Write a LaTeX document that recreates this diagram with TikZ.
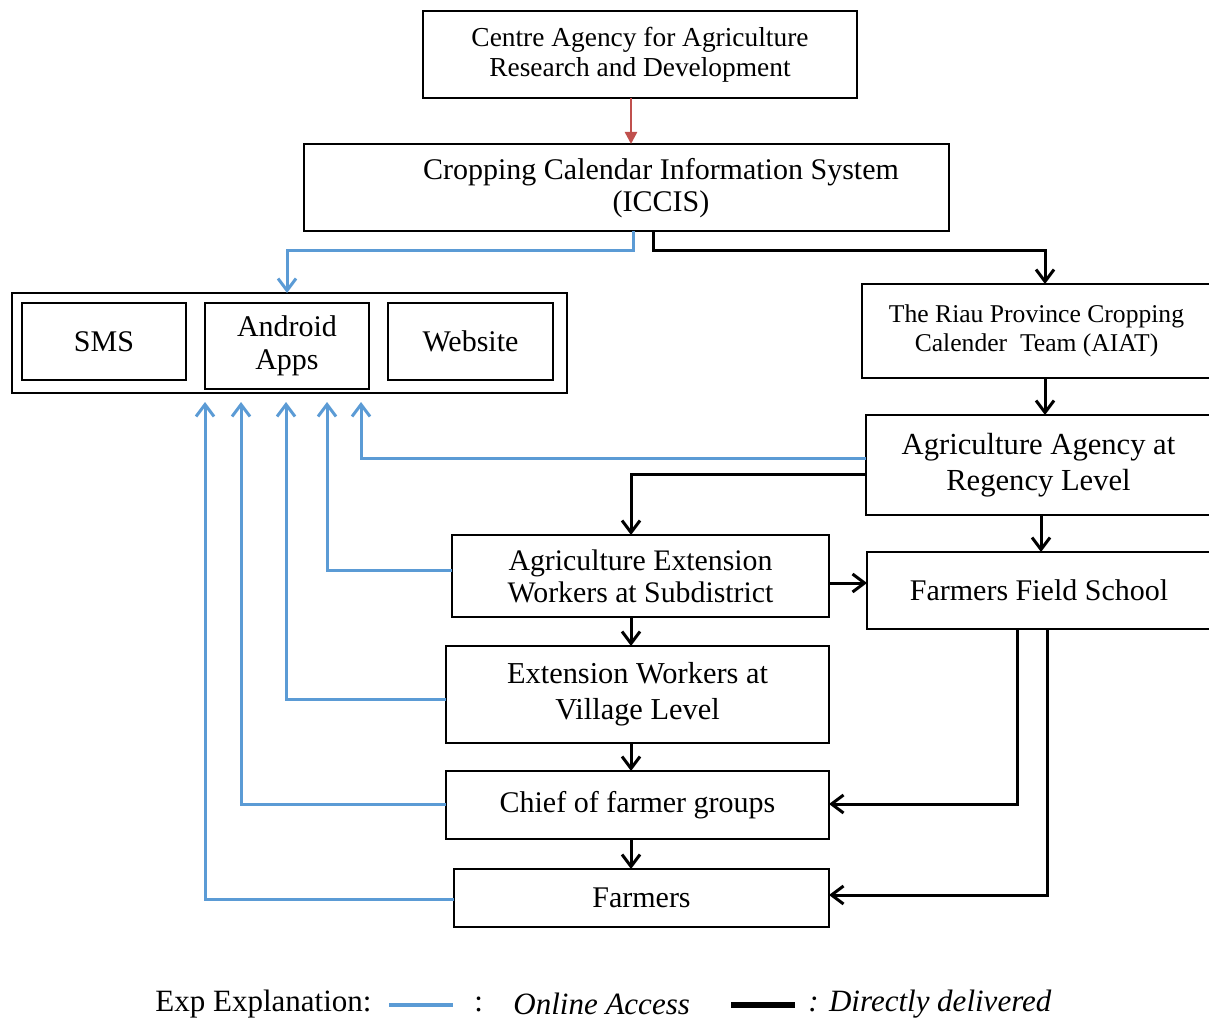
\documentclass[tikz,border=0pt]{standalone}
\usepackage{fontspec}
\setmainfont{Liberation Serif}
\usetikzlibrary{arrows.meta,calc}
\definecolor{onl}{RGB}{91,155,213}
\definecolor{redarr}{RGB}{192,80,77}
\begin{document}
\begin{tikzpicture}[x=0.5pt,y=-0.5pt,
  box/.style={draw,line width=0.9pt,inner sep=0pt,outer sep=0pt,align=center},
  online/.style={draw=onl,line width=1.5pt,-{Straight Barb[length=6pt,width=9pt]}},
  direct/.style={draw=black,line width=1.5pt,-{Straight Barb[length=6pt,width=9pt]}},
  ft/.style={font=\fontsize{15}{17}\selectfont},
  legtxt/.style={anchor=west,inner sep=0pt,font=\fontsize{15.5}{17}\selectfont}]
\useasboundingbox (0,0) rectangle (1209,1021);

% boxes
\node[box,minimum width=217pt,minimum height=43.5pt,font=\fontsize{13.7}{15}\selectfont] (centre) at (640,54.5)
  {Centre Agency for Agriculture\\Research and Development};
\node[box,minimum width=322.5pt,minimum height=43.5pt] (iccis) at (626.5,187.5) {};
\node[ft,align=center,inner sep=0pt,font=\fontsize{15}{16}\selectfont] (iccistxt) at (661,188)
  {Cropping Calendar Information System\\(ICCIS)};

\node[box,minimum width=277.5pt,minimum height=50pt] (grp) at (289.5,343) {};
\node[box,ft,minimum width=82pt,minimum height=38.5pt] (sms) at (104,341.5) {SMS};
\node[box,minimum width=82pt,minimum height=43pt,font=\fontsize{15}{16.5}\selectfont] (android) at (287,346) {Android\\Apps};
\node[box,ft,minimum width=82.5pt,minimum height=38.5pt] (website) at (470.5,341.5) {Website};

\node[box,minimum width=174.5pt,minimum height=47pt,font=\fontsize{12.8}{14.5}\selectfont] (aiat) at (1036.5,331)
  {The Riau Province Cropping\\Calender\ \ Team (AIAT)};
\node[box,minimum width=172.5pt,minimum height=50pt,font=\fontsize{15.3}{18}\selectfont] (agency) at (1038.5,465)
  {Agriculture Agency at\\Regency Level};
\node[box,minimum width=188.5pt,minimum height=41pt,font=\fontsize{14.9}{16}\selectfont] (extsub) at (640.5,576)
  {Agriculture Extension\\Workers at Subdistrict};
\node[box,ft,minimum width=172pt,minimum height=38.5pt] (ffs) at (1039,590.5) {Farmers Field School};
\node[box,minimum width=191.5pt,minimum height=48.5pt,font=\fontsize{15.2}{18}\selectfont] (village) at (637.5,694.5)
  {Extension Workers at\\Village Level};
\node[box,ft,minimum width=191.5pt,minimum height=34pt] (chief) at (637.5,805) {Chief of farmer groups};
\node[box,ft,minimum width=187.5pt,minimum height=29pt] (farmers) at (641.5,898) {Farmers};

\coordinate (gb) at ([yshift=-4.5pt]grp.south);

% red arrow
\draw[draw=redarr,line width=1.2pt,-{Triangle[length=6pt,width=6pt]}]
  ([xshift=-4.5pt]centre.south) -- ([xshift=-4.5pt]centre.south |- iccis.north);

% online access (blue)
\draw[online] ([xshift=3.25pt]iccis.south) -- ++(0,20) -| (android.north |- grp.north);
\draw[online] ([yshift=3.5pt]agency.west) -| (361,0 |- gb);
\draw[online] ([yshift=3pt]extsub.west) -| (327,0 |- gb);
\draw[online] ([yshift=-2.25pt]village.west) -| (286,0 |- gb);
\draw[online] ([yshift=0.5pt]chief.west) -| (241,0 |- gb);
\draw[online] ([yshift=-0.5pt]farmers.west) -| (205,0 |- gb);

% directly delivered (black)
\draw[direct] ([xshift=13.25pt]iccis.south) -- ++(0,20) -| ([xshift=4.25pt]aiat.north);
\draw[direct] ([xshift=4.25pt]aiat.south) -- ([xshift=4.25pt]aiat.south |- agency.north);
\draw[direct] ([yshift=-4.5pt]agency.west) -| ([xshift=-4.75pt]extsub.north);
\draw[direct] ([xshift=1.25pt]agency.south) -- ([xshift=1.25pt]agency.south |- ffs.north);
\draw[direct] ([yshift=-3.5pt]extsub.east) -- ([yshift=-3.5pt]extsub.east -| ffs.west);
\draw[direct] ([xshift=-4.75pt]extsub.south) -- ([xshift=-4.75pt]extsub.south |- village.north);
\draw[direct] ([xshift=-3.25pt]village.south) -- ([xshift=-3.25pt]village.south |- chief.north);
\draw[direct] ([xshift=-3.25pt]chief.south) -- ([xshift=-3.25pt]chief.south |- farmers.north);
\draw[direct] ([xshift=-11pt]ffs.south) |- ([yshift=0.5pt]chief.east);
\draw[direct] ([xshift=4pt]ffs.south) |- ([yshift=1.5pt]farmers.east);

% legend
\node[legtxt] (expl) at (155,1004) {Exp Explanation:};
\node[fill=onl,minimum width=32pt,minimum height=2pt,inner sep=0pt] (keyon) at (421,1005) {};
\node[legtxt] (colon) at (474,1004) {:};
\node[legtxt,font=\fontsize{15.5}{17}\selectfont\itshape] (onltxt) at (513,1004) {Online Access};
\node[fill=black,minimum width=32pt,minimum height=2.8pt,inner sep=0pt] (keydir) at (763,1005) {};
\node[legtxt,font=\fontsize{15.5}{17}\selectfont\itshape] (dirtxt) at (808,1004) {: Directly delivered};
\end{tikzpicture}
\end{document}
